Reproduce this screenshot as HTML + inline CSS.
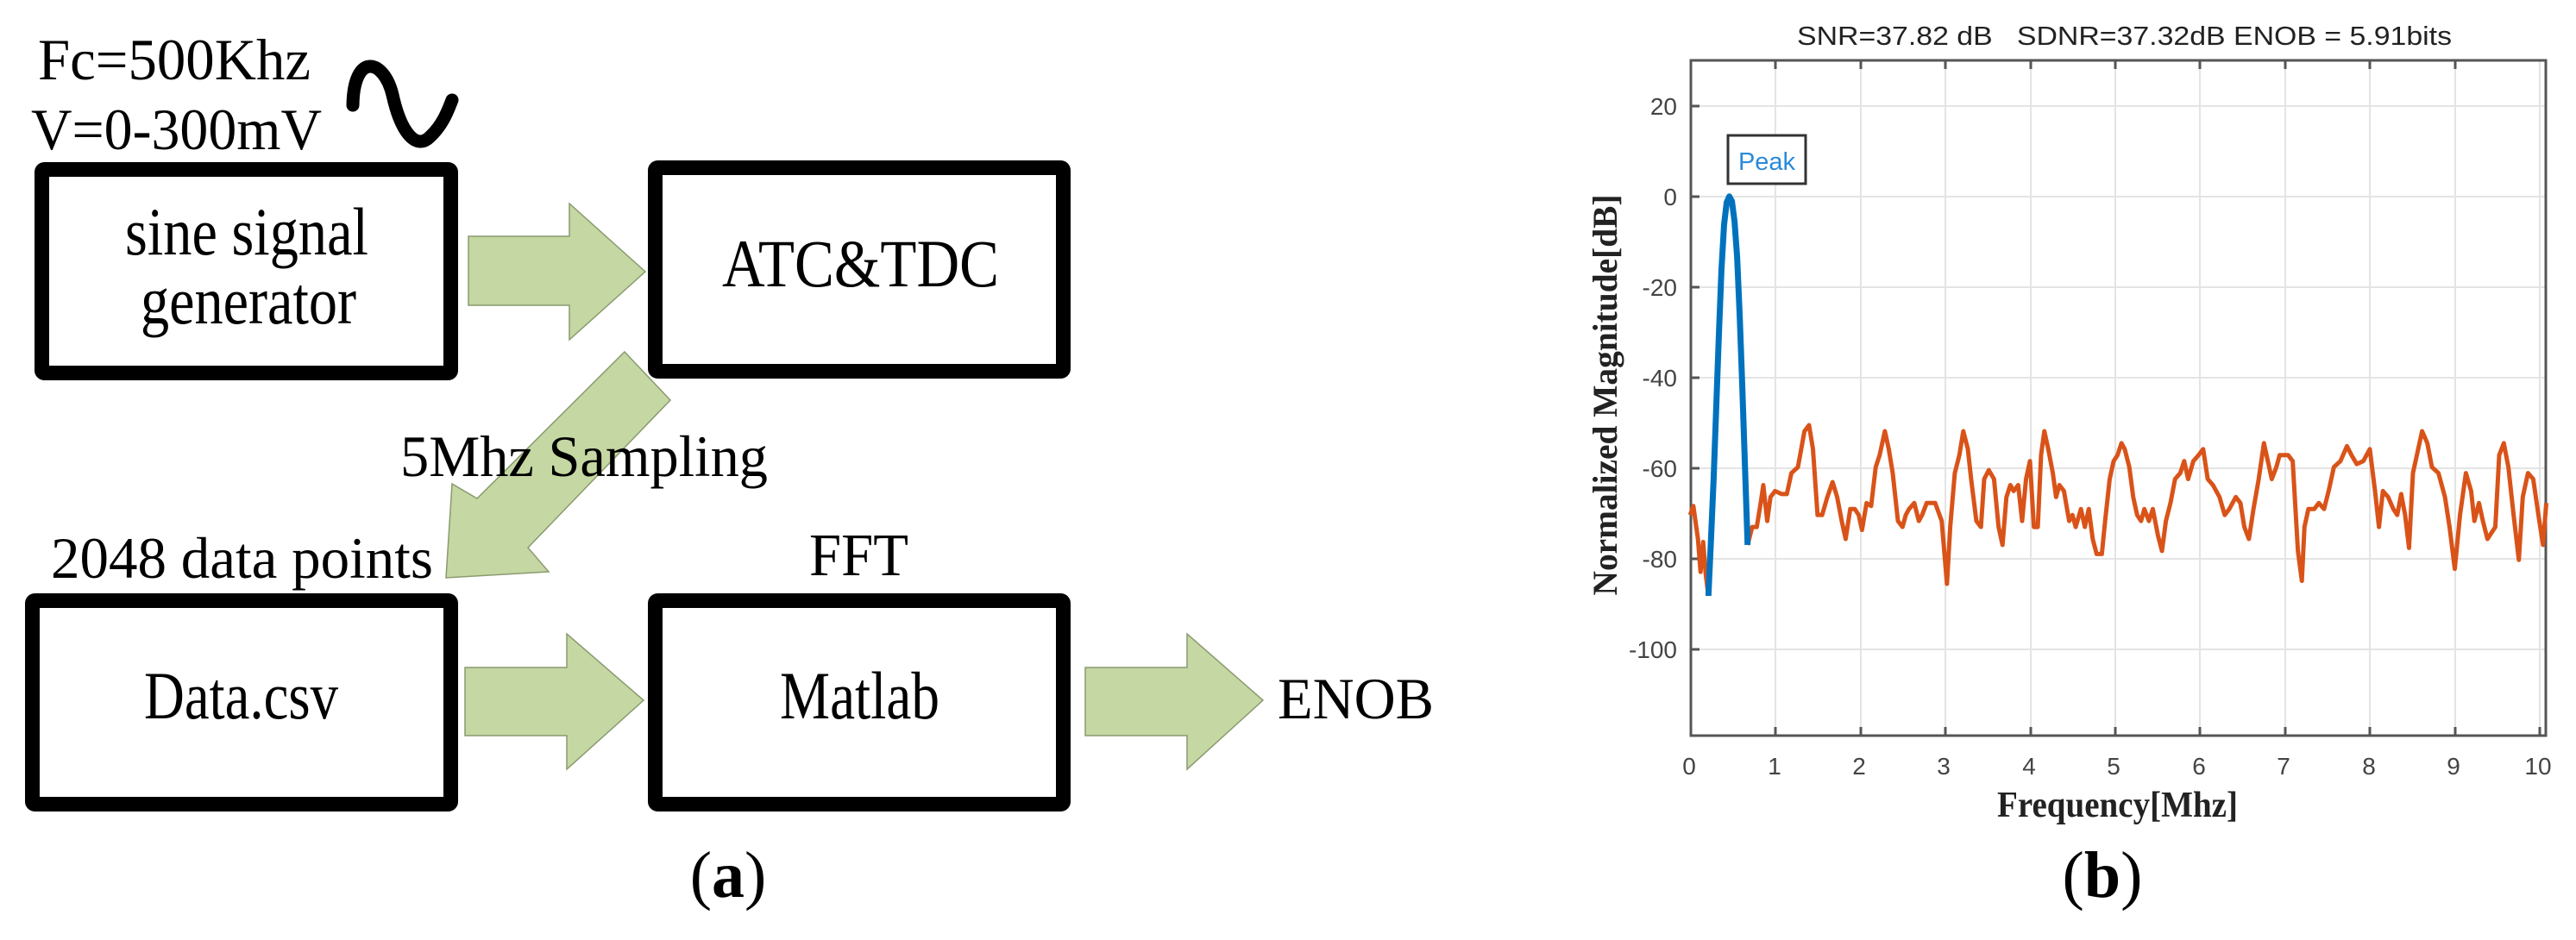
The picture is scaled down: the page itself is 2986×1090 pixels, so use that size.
<!DOCTYPE html>
<html><head><meta charset="utf-8"><style>
html,body{margin:0;padding:0;background:#fff;}
svg{display:block;}
</style></head><body>
<svg width="2986" height="1090" viewBox="0 0 2986 1090" xmlns="http://www.w3.org/2000/svg">
<rect width="2986" height="1090" fill="#fff"/>
<g font-family="Liberation Serif, serif" fill="#000">
<text x="44" y="92" font-size="68" textLength="316" lengthAdjust="spacingAndGlyphs">Fc=500Khz</text>
<text x="36" y="173" font-size="68" textLength="337" lengthAdjust="spacingAndGlyphs">V=0-300mV</text>
</g>
<path d="M409,122 C410,60 445,68 455,110 C465,155 483,175 499,158 C514,144 520,126 524,116" fill="none" stroke="#000" stroke-width="15" stroke-linecap="round"/>
<g fill="none" stroke="#000" stroke-width="17">
<rect x="48.5" y="196.5" width="474" height="236" rx="3"/>
<rect x="759.5" y="194.5" width="473" height="236" rx="3"/>
<rect x="37.5" y="696.5" width="485" height="236" rx="3"/>
<rect x="759.5" y="696.5" width="473" height="236" rx="3"/>
</g>
<g fill="#c5d7a2" stroke="#8a9a70" stroke-width="1.5">
<polygon points="543,274 660,274 660,236 748,315 660,394 660,354 543,354"/>
<polygon points="539,774 657,774 657,735 746,812 657,892 657,853 539,853"/>
<polygon points="1258,774 1376,774 1376,735 1464,812 1376,892 1376,853 1258,853"/>
<polygon points="724,408 777,464 612,635 636,663 517,670 524,561 553,578"/>
</g>
<g font-family="Liberation Serif, serif" fill="#000" font-size="78" lengthAdjust="spacingAndGlyphs">
<text x="145" y="295" textLength="282" lengthAdjust="spacingAndGlyphs">sine signal</text>
<text x="163" y="375" textLength="250" lengthAdjust="spacingAndGlyphs">generator</text>
<text x="837" y="332" textLength="321" lengthAdjust="spacingAndGlyphs">ATC&amp;TDC</text>
<text x="167" y="833" textLength="225" lengthAdjust="spacingAndGlyphs">Data.csv</text>
<text x="904" y="833" textLength="185" lengthAdjust="spacingAndGlyphs">Matlab</text>
<text x="938" y="667" font-size="70" textLength="115" lengthAdjust="spacingAndGlyphs">FFT</text>
</g>
<g font-family="Liberation Serif, serif" fill="#000" font-size="68">
<text x="59" y="670" textLength="443" lengthAdjust="spacingAndGlyphs">2048 data points</text>
<text x="464" y="552" textLength="426" lengthAdjust="spacingAndGlyphs">5Mhz Sampling</text>
<text x="1481" y="833" textLength="181" lengthAdjust="spacingAndGlyphs">ENOB</text>
<text x="844" y="1040" font-size="76" text-anchor="middle">(<tspan font-weight="bold">a</tspan>)</text>
<text x="2437" y="1040" font-size="76" text-anchor="middle">(<tspan font-weight="bold">b</tspan>)</text>
</g>
<g stroke="#e4e4e4" stroke-width="2">
<line x1="2058" y1="70" x2="2058" y2="853"/><line x1="2157" y1="70" x2="2157" y2="853"/>
<line x1="2255" y1="70" x2="2255" y2="853"/><line x1="2354" y1="70" x2="2354" y2="853"/>
<line x1="2452" y1="70" x2="2452" y2="853"/><line x1="2550" y1="70" x2="2550" y2="853"/>
<line x1="2649" y1="70" x2="2649" y2="853"/><line x1="2747" y1="70" x2="2747" y2="853"/>
<line x1="2846" y1="70" x2="2846" y2="853"/><line x1="2944" y1="70" x2="2944" y2="853"/>
<line x1="1960" y1="123" x2="2951" y2="123"/><line x1="1960" y1="228" x2="2951" y2="228"/>
<line x1="1960" y1="333" x2="2951" y2="333"/><line x1="1960" y1="438" x2="2951" y2="438"/>
<line x1="1960" y1="543" x2="2951" y2="543"/><line x1="1960" y1="648" x2="2951" y2="648"/>
<line x1="1960" y1="753" x2="2951" y2="753"/>
</g>
<rect x="1960" y="70" width="991" height="783" fill="none" stroke="#555" stroke-width="3"/>
<g stroke="#555" stroke-width="3">
<line x1="2058" y1="853" x2="2058" y2="843"/><line x1="2157" y1="853" x2="2157" y2="843"/><line x1="2255" y1="853" x2="2255" y2="843"/><line x1="2354" y1="853" x2="2354" y2="843"/><line x1="2452" y1="853" x2="2452" y2="843"/><line x1="2550" y1="853" x2="2550" y2="843"/><line x1="2649" y1="853" x2="2649" y2="843"/><line x1="2747" y1="853" x2="2747" y2="843"/><line x1="2846" y1="853" x2="2846" y2="843"/><line x1="2944" y1="853" x2="2944" y2="843"/>
<line x1="2058" y1="70" x2="2058" y2="80"/><line x1="2157" y1="70" x2="2157" y2="80"/><line x1="2255" y1="70" x2="2255" y2="80"/><line x1="2354" y1="70" x2="2354" y2="80"/><line x1="2452" y1="70" x2="2452" y2="80"/><line x1="2550" y1="70" x2="2550" y2="80"/><line x1="2649" y1="70" x2="2649" y2="80"/><line x1="2747" y1="70" x2="2747" y2="80"/><line x1="2846" y1="70" x2="2846" y2="80"/>
<line x1="1960" y1="123" x2="1970" y2="123"/><line x1="1960" y1="228" x2="1970" y2="228"/><line x1="1960" y1="333" x2="1970" y2="333"/><line x1="1960" y1="438" x2="1970" y2="438"/><line x1="1960" y1="543" x2="1970" y2="543"/><line x1="1960" y1="648" x2="1970" y2="648"/><line x1="1960" y1="753" x2="1970" y2="753"/>
</g>
<g font-family="Liberation Sans, sans-serif" font-size="28" fill="#444" text-anchor="end">
<text x="1944" y="133">20</text><text x="1944" y="238">0</text><text x="1944" y="343">-20</text>
<text x="1944" y="448">-40</text><text x="1944" y="553">-60</text><text x="1944" y="658">-80</text>
<text x="1944" y="763">-100</text>
</g>
<g font-family="Liberation Sans, sans-serif" font-size="28" fill="#444" text-anchor="middle">
<text x="1958" y="898">0</text><text x="2057" y="898">1</text><text x="2155" y="898">2</text><text x="2253" y="898">3</text><text x="2352" y="898">4</text><text x="2450" y="898">5</text><text x="2549" y="898">6</text><text x="2647" y="898">7</text><text x="2746" y="898">8</text><text x="2844" y="898">9</text><text x="2942" y="898">10</text>
</g>
<text x="2083" y="52" font-family="Liberation Sans, sans-serif" font-size="31" fill="#222" textLength="759" lengthAdjust="spacingAndGlyphs" xml:space="preserve">SNR=37.82 dB   SDNR=37.32dB ENOB = 5.91bits</text>
<text x="2315" y="947" font-family="Liberation Serif, serif" font-weight="bold" font-size="42" fill="#222" textLength="279" lengthAdjust="spacingAndGlyphs">Frequency[Mhz]</text>
<text transform="translate(1874,458) rotate(-90)" text-anchor="middle" font-family="Liberation Serif, serif" font-weight="bold" font-size="40" fill="#222" textLength="465" lengthAdjust="spacingAndGlyphs">Normalized Magnitude[dB]</text>
<rect x="2003" y="157" width="90" height="56" fill="#fff" stroke="#333" stroke-width="3"/>
<text x="2048" y="197" text-anchor="middle" font-family="Liberation Sans, sans-serif" font-size="29" fill="#2a8ad8">Peak</text>
<g transform="translate(1800,0) scale(0.7576,0.6944)" fill="none" stroke-linejoin="round">
<polyline vector-effect="non-scaling-stroke" stroke="#d95319" stroke-width="5" points="210,860 215,845 222,900 226,955 230,905 234,960 238,995"/>
<polyline vector-effect="non-scaling-stroke" stroke="#d95319" stroke-width="5" points="298,910 305,880 312,880 318,840 322,810 328,870 333,830 340,820 350,825 358,825 365,790 375,780 385,720 392,710 398,750 405,860 412,860 420,830 428,805 435,830 442,870 448,900 455,850 462,850 468,860 473,885 480,840 487,845 494,780 500,760 508,720 514,750 520,790 528,870 535,880 540,860 545,850 553,840 560,870 565,860 572,840 585,840 595,870 603,975 608,880 615,790 622,760 628,720 635,750 640,800 648,870 655,880 660,800 667,785 675,800 682,880 688,910 694,830 700,810 705,820 712,810 718,870 724,800 730,770 736,880 742,880 747,760 752,720 758,750 765,790 770,830 775,810 782,820 790,870 795,860 800,880 808,850 814,880 820,850 826,900 832,925 840,925 845,870 852,800 858,770 864,760 870,740 875,750 882,780 888,830 894,860 900,870 905,850 912,870 918,850 926,895 932,920 938,870 945,840 952,800 960,790 966,770 972,800 980,770 988,760 995,750 1002,800 1010,810 1020,830 1028,860 1035,850 1045,830 1052,840 1058,880 1065,900 1072,850 1080,800 1088,740 1094,770 1100,800 1107,780 1112,760 1118,760 1125,760 1132,770 1140,920 1146,970 1150,880 1156,850 1165,850 1172,840 1180,850 1187,820 1195,780 1205,770 1215,745 1222,760 1230,775 1240,770 1250,750 1258,820 1264,880 1270,820 1278,830 1286,850 1292,860 1298,825 1304,860 1310,915 1316,790 1322,760 1330,720 1338,740 1345,780 1355,790 1365,830 1372,880 1380,950 1388,860 1397,790 1405,820 1410,870 1417,840 1423,870 1430,900 1436,890 1442,880 1448,760 1455,740 1462,780 1470,860 1478,935 1484,830 1492,790 1500,800 1508,860 1515,910 1520,840"/>
<polyline vector-effect="non-scaling-stroke" stroke="#0072bd" stroke-width="7" points="238,995 242,900 246,800 250,680 254,560 258,450 262,375 266,338 270,328 274,336 278,370 282,430 286,530 290,650 294,780 298,910"/>
</g>
</svg>
</body></html>
